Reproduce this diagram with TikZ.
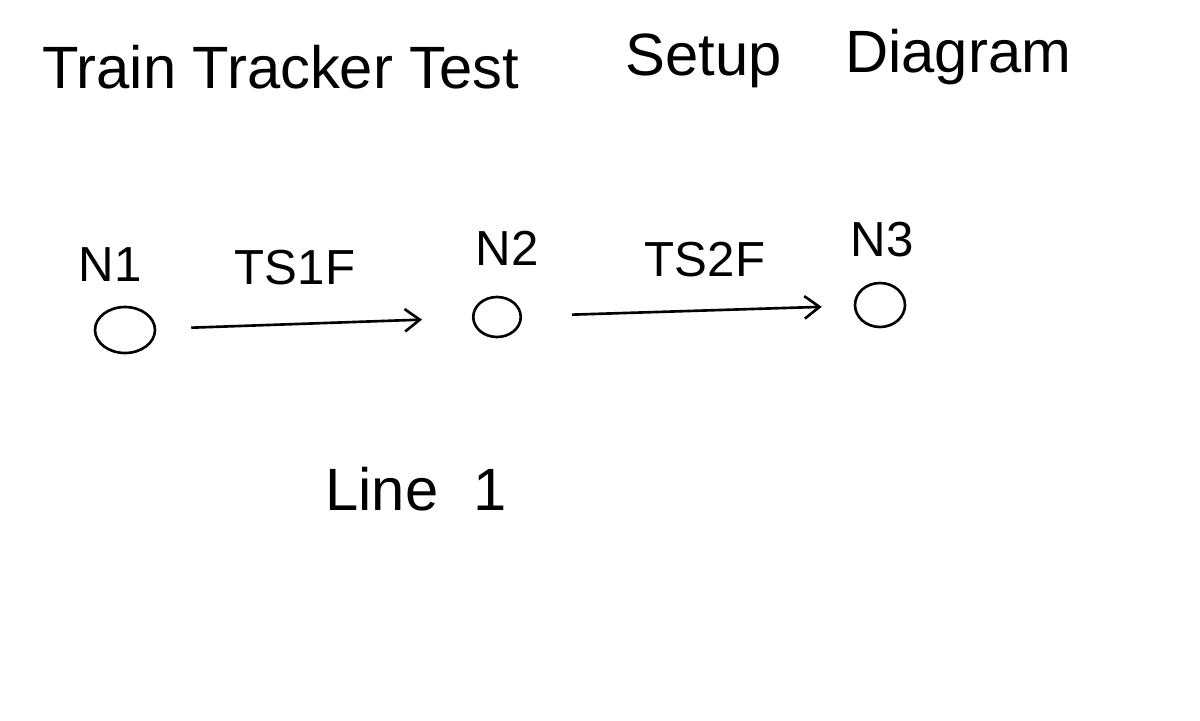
\documentclass[tikz,border=0pt]{standalone}
\usepackage{fontspec}
\setmainfont{Liberation Sans}
\usetikzlibrary{arrows.meta,shapes.geometric}
\begin{document}
\begin{tikzpicture}[x=0.02cm,y=-0.02cm,
  titletext/.style={font=\fontsize{34}{40}\selectfont, inner sep=0pt, anchor=base west},
  lbl/.style={font=\fontsize{28}{32}\selectfont, inner sep=0pt},
  stn/.style={draw, ellipse, line width=1.5pt, inner sep=0pt},
  trk/.style={-{Straight Barb[length=0.3cm,width=0.45cm]}, line width=1.5pt}]
\useasboundingbox[fill=white] (0,0) rectangle (1200,720);
% title
\node[titletext] (t1) at (42,88) {Train Tracker Test};
\node[titletext] (t2) at (625,75) {Setup};
\node[titletext] (t3) at (845,72) {Diagram};
% stations
\node[stn, minimum width=1.2cm, minimum height=0.92cm] (n1) at (125,330) {};
\node[stn, minimum width=0.95cm, minimum height=0.8cm] (n2) at (497,317) {};
\node[stn, minimum width=1.0cm, minimum height=0.88cm] (n3) at (880,305) {};
\node[lbl] (l1) at (110,265) {N1};
\node[lbl] (l2) at (507,248) {N2};
\node[lbl] (l3) at (882,240) {N3};
% track segments
\draw[trk, shorten <=0.7cm, shorten >=1.0cm] (n1) -- (n2);
\draw[trk, shorten <=1.0cm, shorten >=0.64cm] (n2) -- (n3);
\node[lbl] (s1) at (295,268) {TS1F};
\node[lbl] (s2) at (705,260) {TS2F};
% line label
\node[titletext] (ln) at (325,510) {Line\hspace{0.7cm}1};
\end{tikzpicture}
\end{document}
